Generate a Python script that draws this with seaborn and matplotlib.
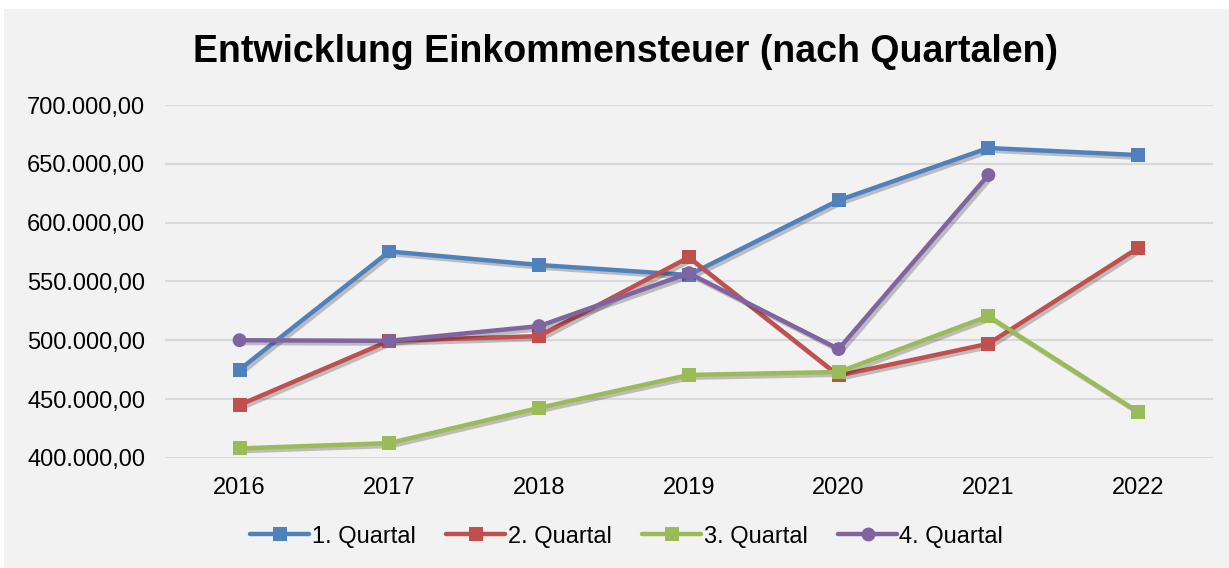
import pandas as pd
import matplotlib
matplotlib.use('Agg')
import matplotlib.pyplot as plt
import matplotlib.patheffects as pe
from matplotlib.ticker import FuncFormatter
import seaborn as sns

years = [2016, 2017, 2018, 2019, 2020, 2021, 2022]
q1 = [475000, 575500, 564000, 555500, 619000, 663500, 657500]
q2 = [445000, 499500, 503500, 570500, 470000, 497000, 578500]
q3 = [408000, 412500, 442500, 470500, 473000, 520500, 439000]
q4 = [500000, 499500, 512000, 557000, 492500, 640500]  # no value for 2022

series = {'1. Quartal': q1, '2. Quartal': q2, '3. Quartal': q3, '4. Quartal': q4}
rows = []
for name, vals in series.items():
    for yr, v in zip(years, vals):
        rows.append({'Jahr': yr, 'Wert': v, 'Quartal': name})
df = pd.DataFrame(rows)

palette = {'1. Quartal': '#4f81bd', '2. Quartal': '#c0504d',
           '3. Quartal': '#9bbb59', '4. Quartal': '#8064a2'}
markers = {'1. Quartal': 's', '2. Quartal': 's', '3. Quartal': 's', '4. Quartal': 'o'}

sns.set_style('white')
plt.rcParams['font.family'] = ['Liberation Sans', 'DejaVu Sans']
plt.rcParams['text.color'] = 'black'

fig = plt.figure(figsize=(12.29, 5.68), dpi=100)
fig.patch.set_facecolor('white')
# grey chart area like the office chart
bg = plt.Rectangle((0.003, 0.0), 0.997, 0.985, transform=fig.transFigure,
                   facecolor='#f2f2f2', edgecolor='none', zorder=-10)
fig.patches.append(bg)

ax = fig.add_axes([0.134, 0.194, 0.853, 0.621])
ax.set_facecolor('#f2f2f2')

sns.lineplot(data=df, x='Jahr', y='Wert', hue='Quartal', style='Quartal',
             palette=palette, markers=markers, dashes=False,
             linewidth=3.2, markersize=10, markeredgewidth=0, ax=ax)

ax.set_ylim(400000, 700000)
ax.set_xlim(2015.5, 2022.5)
ax.set_xticks(years)
ax.set_yticks(range(400000, 700001, 50000))
ax.yaxis.set_major_formatter(FuncFormatter(
    lambda v, p: f'{v:,.2f}'.replace(',', 'X').replace('.', ',').replace('X', '.')))
ax.grid(axis='y', color='#d9d9d9', linewidth=1.5)
ax.set_axisbelow(True)
for s in ax.spines.values():
    s.set_visible(False)
ax.tick_params(axis='both', length=0, labelsize=17, colors='black')
ax.tick_params(axis='y', pad=14)
ax.tick_params(axis='x', pad=14)
ax.set_xlabel('')
ax.set_ylabel('')

fig.text(0.509, 0.908, 'Entwicklung Einkommensteuer (nach Quartalen)',
         ha='center', va='center', fontsize=27, fontweight='bold')

handles, labels = ax.get_legend_handles_labels()
ax.get_legend().remove()
leg = fig.legend(handles, labels, loc='center', bbox_to_anchor=(0.51, 0.055), ncol=4,
                 frameon=False, fontsize=17, handlelength=2.5, handletextpad=0.1,
                 columnspacing=1.3)

# soft drop shadow on the data lines only
shadow = [pe.SimpleLineShadow(offset=(2, -2), shadow_color='black', alpha=0.22), pe.Normal()]
for line in ax.lines:
    line.set_path_effects(shadow)

plt.savefig('out.png', dpi=100, facecolor=fig.get_facecolor())
